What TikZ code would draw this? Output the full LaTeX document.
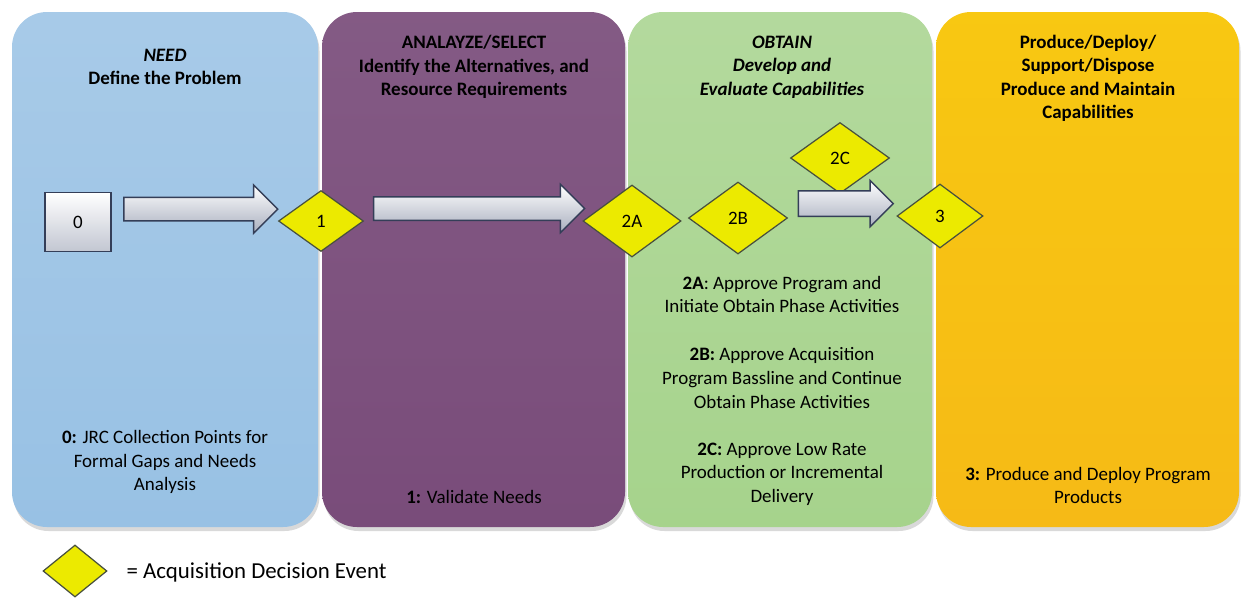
\documentclass[tikz,border=0pt]{standalone}
\usepackage{fontspec}
\setmainfont{Carlito}
\usetikzlibrary{shapes.geometric,shapes.arrows,shadows}

\definecolor{needblue}{RGB}{152,193,228}
\definecolor{selpurple}{RGB}{121,76,122}
\definecolor{obtgreen}{RGB}{166,211,140}
\definecolor{prodorange}{RGB}{246,186,22}
\definecolor{dyellow}{RGB}{236,234,0}
\definecolor{dedge}{RGB}{72,80,62}
\definecolor{aedge}{RGB}{52,62,88}
\definecolor{agray}{RGB}{168,174,190}

\begin{document}
\begin{tikzpicture}[auto, thick,
  phase/.style={rounded corners=0.7cm, minimum height=10.3cm, inner sep=0pt, drop shadow={opacity=0.3, shadow xshift=0.03cm, shadow yshift=-0.08cm}},
  head/.style={align=center, font=\bfseries\fontsize{10.8}{13.4}\selectfont},
  txt/.style={align=center, font=\fontsize{10.8}{13.4}\selectfont},
  event/.style={diamond, draw=dedge, line width=0.7pt, fill=dyellow, inner sep=0pt, font=\fontsize{10.8}{13}\selectfont},
  start/.style={rectangle, draw=aedge, line width=1pt, top color=white, bottom color=agray!70, minimum width=1.32cm, minimum height=1.18cm, font=\fontsize{10.8}{13}\selectfont},
  bigarrow/.style={single arrow, draw=aedge, line width=0.8pt, top color=white, bottom color=agray, inner xsep=0pt, inner ysep=0.22cm, single arrow head extend=0.25cm, single arrow tip angle=90}]
\useasboundingbox (0,0) rectangle (24.82,-11.94);

% phases
\node[phase, minimum width=6.12cm, top color=needblue!85!white, bottom color=needblue] (need) at (3.30,-5.39) {};
\node[phase, minimum width=6.06cm, top color=selpurple!92!white, bottom color=selpurple] (sel) at (9.47,-5.39) {};
\node[phase, minimum width=6.08cm, top color=obtgreen!85!white, bottom color=obtgreen] (obt) at (15.60,-5.39) {};
\node[phase, minimum width=6.06cm, top color=prodorange!80!yellow, bottom color=prodorange] (prod) at (21.75,-5.39) {};

% titles
\node[head] (needt) at (3.30,-1.34) {\textit{NEED}\\Define the Problem};
\node[head] (selt) at (9.48,-1.34) {ANALAYZE/SELECT\\Identify the Alternatives, and\\Resource Requirements};
\node[head, font=\bfseries\itshape\fontsize{10.8}{13.4}\selectfont] (obtt) at (15.64,-1.34) {OBTAIN\\Develop and\\Evaluate Capabilities};
\node[head] (prodt) at (21.76,-1.57) {Produce/Deploy/\\Support/Dispose\\Produce and Maintain\\Capabilities};

% decision events
\node[start] (0) at (1.56,-4.44) {0};
\node[event, minimum width=1.7cm, minimum height=1.22cm] (1) at (6.42,-4.42) {1};
\node[event, minimum width=1.96cm, minimum height=1.44cm] (2A) at (12.64,-4.42) {2A};
\node[event, minimum width=1.98cm, minimum height=1.44cm] (2B) at (14.76,-4.36) {2B};
\node[event, minimum width=1.98cm, minimum height=1.42cm] (2C) at (16.80,-3.16) {2C};
\node[event, minimum width=1.72cm, minimum height=1.28cm] (3) at (18.80,-4.32) {3};

\path (0) -- (1) node[midway, bigarrow, minimum height=3.08cm] (a1) {};
\path (1) -- (2A) node[midway, bigarrow, minimum height=4.22cm] (a2) {};
\path (2B) -- (3) node[pos=0.475, bigarrow, minimum height=1.9cm, inner ysep=0.24cm, single arrow head extend=0.21cm] (a3) {};

% descriptions
\node[txt] (need0) at (3.30,-9.24) {\textbf{0:} JRC Collection Points for\\Formal Gaps and Needs\\Analysis};
\node[txt] (sel1) at (9.48,-9.94) {\textbf{1:} Validate Needs};
\node[txt] (obt2a) at (15.64,-5.89) {\textbf{2A}: Approve Program and\\Initiate Obtain Phase Activities};
\node[txt] (obt2b) at (15.64,-7.56) {\textbf{2B:} Approve Acquisition\\Program Bassline and Continue\\Obtain Phase Activities};
\node[txt] (obt2c) at (15.64,-9.48) {\textbf{2C:} Approve Low Rate\\Production or Incremental\\Delivery};
\node[txt] (prod3) at (21.76,-9.71) {\textbf{3:} Produce and Deploy Program\\Products};

% legend
\node[event, minimum width=1.28cm, minimum height=1.04cm] (key) at (1.50,-11.42) {};
\node[anchor=west, font=\fontsize{13}{15}\selectfont] (keyt) at (2.40,-11.44) {= Acquisition Decision Event};

\end{tikzpicture}
\end{document}
